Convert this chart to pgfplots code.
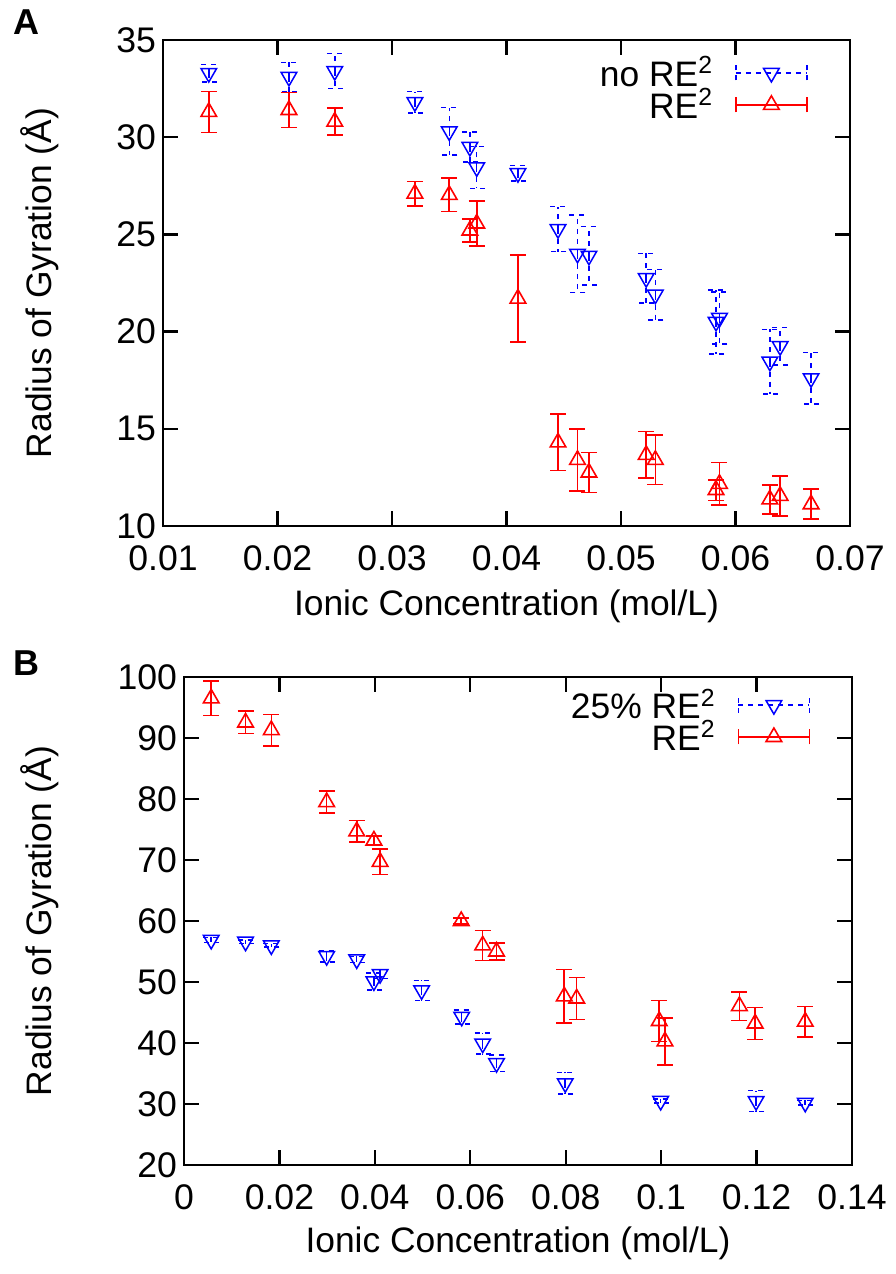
\documentclass[border=0pt]{standalone}
\usepackage{fontspec}
\setmainfont{Liberation Sans}
\usepackage{pgfplots}
\usepackage{pgfplotstable}
\pgfplotsset{compat=1.18}

% panel A: no RE^2 / RE^2
\pgfplotstableread{
x y e
0.0140 33.30 0.45
0.0210 33.10 0.75
0.0250 33.40 0.90
0.0320 31.80 0.55
0.0350 30.30 1.22
0.0368 29.50 0.78
0.0374 28.45 1.08
0.0410 28.15 0.40
0.0445 25.27 1.16
0.0462 24.00 2.00
0.0472 23.90 1.50
0.0522 22.75 1.27
0.0530 21.90 1.30
0.0583 20.50 1.65
0.0586 20.70 1.33
0.0630 18.45 1.67
0.0639 19.25 0.97
0.0666 17.60 1.33
}\noreA
\pgfplotstableread{
x y e
0.0140 31.30 1.05
0.0210 31.40 0.90
0.0250 30.80 0.70
0.0320 27.10 0.63
0.0350 27.03 0.86
0.0368 25.20 0.58
0.0374 25.56 1.17
0.0410 21.70 2.25
0.0445 14.30 1.45
0.0462 13.40 1.60
0.0472 12.75 1.03
0.0522 13.66 1.20
0.0530 13.40 1.27
0.0583 11.85 0.53
0.0586 12.17 1.10
0.0630 11.37 0.75
0.0639 11.55 1.02
0.0666 11.12 0.77
}\reA
% panel B: 25% RE^2 / RE^2
\pgfplotstableread{
x y e
0.0057 56.90 0.40
0.0129 56.60 0.30
0.0183 56.00 0.30
0.0299 54.25 0.95
0.0362 53.70 0.50
0.0398 50.10 1.40
0.0411 51.30 0.75
0.0498 48.63 1.65
0.0582 44.30 1.15
0.0626 39.90 1.70
0.0655 36.70 1.37
0.0799 33.40 1.78
0.0999 30.50 0.35
0.1199 30.47 1.73
0.1302 30.20 0.40
}\quartB
\pgfplotstableread{
x y e
0.0057 96.50 2.80
0.0129 92.55 1.83
0.0183 91.30 2.57
0.0299 79.50 1.78
0.0362 74.70 1.75
0.0398 73.20 0.70
0.0411 69.70 2.07
0.0581 60.00 0.50
0.0626 56.00 2.47
0.0655 55.00 1.37
0.0797 47.65 4.40
0.0823 47.30 3.45
0.0996 43.60 3.35
0.1008 40.27 3.87
0.1164 46.05 2.36
0.1197 43.20 2.60
0.1302 43.50 2.47
}\reB

\pgfplotsset{
  rg/.style={
    scale only axis,
    clip=false,
    axis line style={line width=1.4pt},
    every tick/.style={black, line width=1.2pt},
    tick align=inside,
    major tick length=7.5pt,
    scaled ticks=false,
    /pgf/number format/fixed,
    /pgf/number format/precision=2,
    /pgf/number format/assume math mode=true,
    tick label style={font=\fontsize{17.8}{20}\selectfont},
    xticklabel style={yshift=-6.5pt},
    label style={font=\fontsize{17.7}{20}\selectfont},
    legend plot pos=right,
    legend style={draw=none, fill=none, inner sep=0pt, anchor=north east,
      legend cell align=right, column sep=9pt, row sep=-4.5pt,
      font=\fontsize{17.7}{20}\selectfont},
  },
  bluepts/.style={only marks, blue, mark=triangle, mark size=4.5pt,
    mark options={rotate=180, solid, line width=0.75pt, fill=none},
    legend image code/.code={%
      \draw[blue, line width=0.75pt, dash pattern=on 2.5pt off 2.5pt]
        (0pt,0pt) -- (35.5pt,0pt) (0pt,-3.75pt) -- (0pt,3.75pt)
        (35.5pt,-3.75pt) -- (35.5pt,3.75pt);
      \draw[blue, line width=0.75pt, mark=triangle, mark size=4.5pt,
        mark options={rotate=180, solid}] plot coordinates {(17.75pt,0pt)};},
    error bars/.cd, y dir=both, y explicit,
    error bar style={line width=0.75pt, dash pattern=on 2.5pt off 2.5pt},
    error mark options={rotate=90, blue, mark size=4pt, line width=0.75pt,
      dash pattern=on 2.5pt off 2.5pt},
  },
  redpts/.style={only marks, red, mark=triangle, mark size=4.5pt,
    mark options={solid, line width=0.8pt, fill=none},
    legend image code/.code={%
      \draw[red, line width=0.8pt]
        (0pt,0pt) -- (35.5pt,0pt) (0pt,-3.75pt) -- (0pt,3.75pt)
        (35.5pt,-3.75pt) -- (35.5pt,3.75pt);
      \draw[red, line width=0.8pt, mark=triangle, mark size=4.5pt,
        mark options={solid}] plot coordinates {(17.75pt,0pt)};},
    error bars/.cd, y dir=both, y explicit,
    error bar style={line width=0.8pt, solid},
    error mark options={rotate=90, red, mark size=4pt, line width=0.8pt},
  },
}

\begin{document}
\begin{tikzpicture}
\path[use as bounding box] (0,0) rectangle (447.5pt,-637pt);

\node[font=\bfseries\fontsize{18}{20}\selectfont] at (13pt,-11pt) {A};
\node[font=\bfseries\fontsize{18}{20}\selectfont] at (13pt,-331.5pt) {B};

\begin{axis}[rg,
    at={(81.5pt,-20pt)}, anchor=north west,
    width=343.5pt, height=243pt,
    xmin=0.01, xmax=0.07, ymin=10, ymax=35,
    xtick={0.01,0.02,0.03,0.04,0.05,0.06,0.07},
    ytick={10,15,20,25,30,35},
    xlabel={Ionic Concentration (mol/L)},
    ylabel={Radius of Gyration (Å)},
    xlabel style={at={(axis description cs:0.5,-0.165)}, anchor=center},
    ylabel style={at={(axis description cs:-0.179,0.5)}, anchor=center},
    legend style={at={(rel axis cs:0.939,0.975)}},
  ]
  \addplot+[bluepts] table[x=x, y=y, y error=e] {\noreA};
  \addplot+[redpts] table[x=x, y=y, y error=e] {\reA};
  \legend{no RE\textsuperscript{2}, RE\textsuperscript{2}}
\end{axis}

\begin{axis}[rg,
    at={(92pt,-338.5pt)}, anchor=north west,
    width=334pt, height=244pt,
    xmin=0, xmax=0.14, ymin=20, ymax=100,
    xtick={0,0.02,0.04,0.06,0.08,0.1,0.12,0.14},
    ytick={20,30,40,50,60,70,80,90,100},
    xlabel={Ionic Concentration (mol/L)},
    ylabel={Radius of Gyration (Å)},
    xlabel style={at={(axis description cs:0.5,-0.16)}, anchor=center},
    ylabel style={at={(axis description cs:-0.2156,0.5)}, anchor=center},
    legend style={at={(rel axis cs:0.938,0.985)}},
  ]
  \addplot+[bluepts] table[x=x, y=y, y error=e] {\quartB};
  \addplot+[redpts] table[x=x, y=y, y error=e] {\reB};
  \legend{25\% RE\textsuperscript{2}, RE\textsuperscript{2}}
\end{axis}
\end{tikzpicture}
\end{document}
